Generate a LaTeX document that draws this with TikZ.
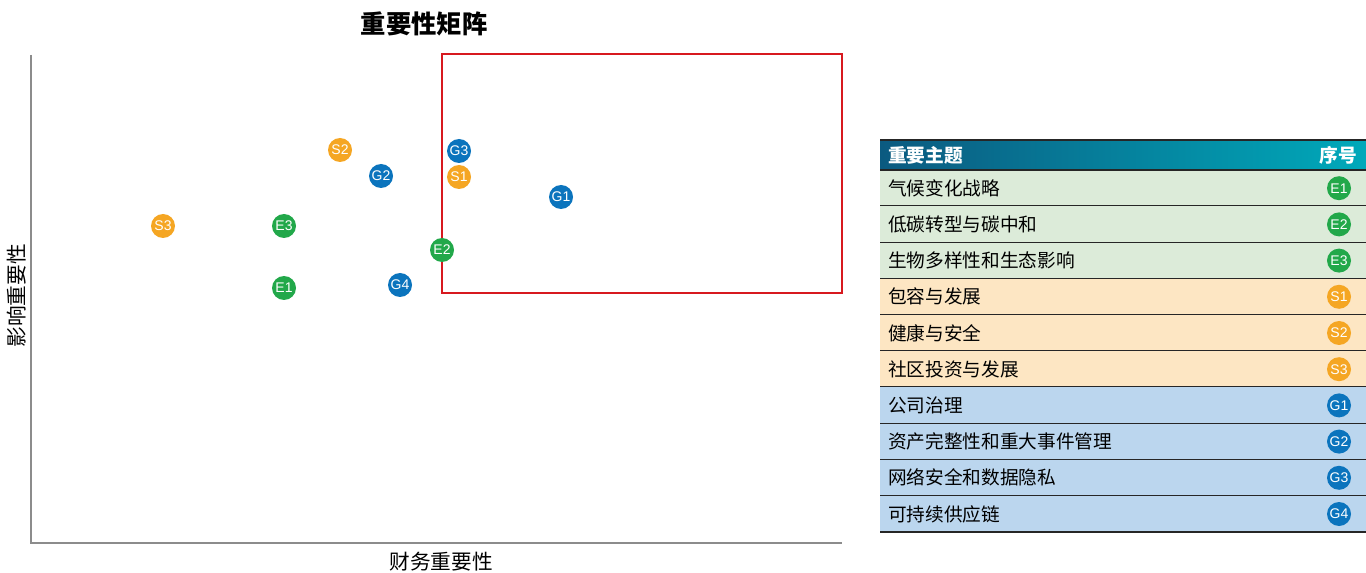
\documentclass[tikz,border=0pt]{standalone}
\usepackage{fontspec}
\setmainfont{Noto Sans CJK SC}
\newfontfamily\latsans{Liberation Sans}
\usetikzlibrary{positioning}
\definecolor{envgreen}{HTML}{22A84A}
\definecolor{socorange}{HTML}{F5A623}
\definecolor{govblue}{HTML}{0B74BD}
\definecolor{envrow}{HTML}{DCEBD9}
\definecolor{socrow}{HTML}{FDE6C3}
\definecolor{govrow}{HTML}{BBD6EE}
\definecolor{headleft}{HTML}{0B5A80}
\definecolor{headmid}{HTML}{06878F}
\definecolor{headright}{HTML}{00A9BA}
\definecolor{boxred}{HTML}{D7191F}
\definecolor{axisgray}{HTML}{8C8C8C}
\begin{document}
\begin{tikzpicture}[x=0.75pt, y=-0.75pt,
    dot/.style = {shape=circle, inner sep=0pt, minimum size=18pt, text=white, font=\latsans\fontsize{10.5}{11}\selectfont},
    rowtext/.style = {anchor=west, inner sep=0pt, font=\fontsize{14}{16}\selectfont},
    axislabel/.style = {inner sep=0pt, font=\fontsize{15.5}{17}\selectfont},
    rowline/.style = {draw=black!85, line width=1.3pt}]
  \useasboundingbox (0,0) rectangle (1366,573);
  % title and axes
  \node[font=\bfseries\fontsize{19}{21}\selectfont] (title) at (424,24) {重要性矩阵};
  \coordinate (top) at (31,55);
  \coordinate (origin) at (31,543);
  \coordinate (right) at (842,543);
  \draw[axisgray, line width=0.8pt] (top) -- (origin) -- (right);
  \node[axislabel] (xlabel) at (441,562) {财务重要性};
  \node[axislabel, rotate=90] (ylabel) at (17,296) {影响重要性};
  \draw[boxred, line width=1.6pt] (442,54) rectangle (842,293);
  % topics in the matrix
  \foreach \name/\px/\py/\col in {S2/340/150/socorange, G3/459/151/govblue,
      G2/381/176/govblue, S1/459/177/socorange, G1/561/197/govblue,
      S3/163/226/socorange, E3/284/226/envgreen, E2/442/250/envgreen,
      G4/400/285/govblue, E1/284/288/envgreen}
    \node[dot, fill=\col] (\name) at (\px,\py) {\name};
  % table
  \shade[left color=headleft, middle color=headmid, right color=headright] (880,140) rectangle (1366,170);
  \node[rowtext, text=white, font=\bfseries\fontsize{14}{16}\selectfont] (head) at (888,155) {重要主题};
  \node[anchor=east, inner sep=0pt, text=white, font=\bfseries\fontsize{14}{16}\selectfont] (headno) at (1357,155) {序号};
  \foreach \i/\name/\topic/\col/\bg in {1/E1/气候变化战略/envgreen/envrow,
      2/E2/低碳转型与碳中和/envgreen/envrow,
      3/E3/生物多样性和生态影响/envgreen/envrow,
      4/S1/包容与发展/socorange/socrow,
      5/S2/健康与安全/socorange/socrow,
      6/S3/社区投资与发展/socorange/socrow,
      7/G1/公司治理/govblue/govrow,
      8/G2/资产完整性和重大事件管理/govblue/govrow,
      9/G3/网络安全和数据隐私/govblue/govrow,
      10/G4/可持续供应链/govblue/govrow} {
    \fill[\bg] (880,134+36.2*\i) rectangle (1366,170+36.2*\i);
    \node[rowtext] (topic\i) at (888,152+36.2*\i) {\topic};
    \node[dot, fill=\col] (t\name) at (1339,152+36.2*\i) {\name};
    \draw[rowline] (880,170+36.2*\i) -- (1366,170+36.2*\i);
  }
  \draw[black!85, line width=1.6pt] (880,140) -- (1366,140);
  \draw[rowline] (880,170) -- (1366,170);
\end{tikzpicture}
\end{document}
